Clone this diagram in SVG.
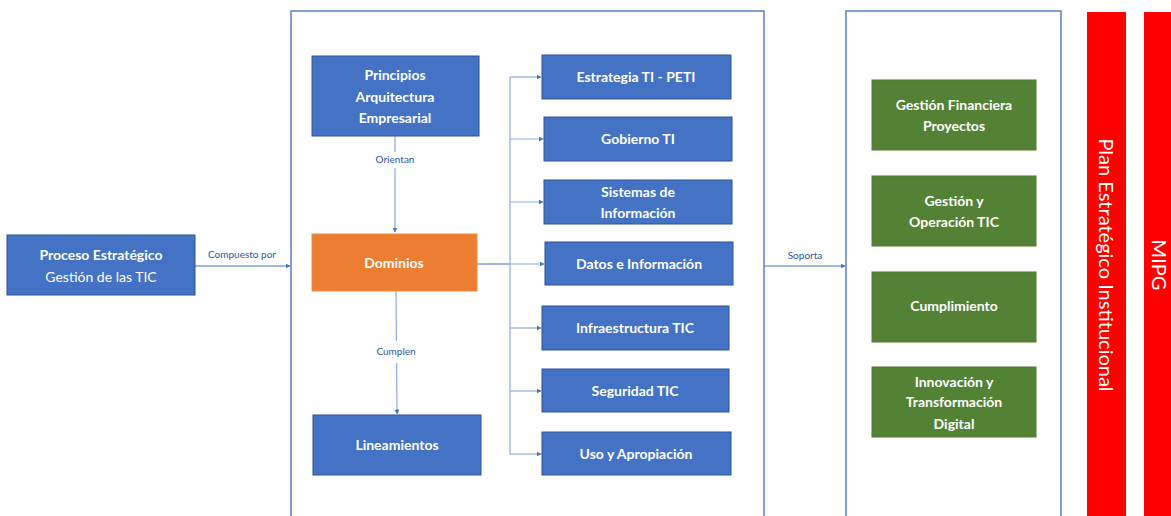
<svg xmlns="http://www.w3.org/2000/svg" width="1171" height="516" viewBox="0 0 1171 516">
  <defs>
    <marker id="arr" viewBox="0 0 10 10" refX="9" refY="5" markerWidth="5" markerHeight="5" orient="auto" markerUnits="userSpaceOnUse">
      <path d="M0,0 L10,5 L0,10 z" fill="#4472C4"/>
    </marker>
    <style>
      .blue { fill: #4472C4; stroke: #2F528F; stroke-width: 1; }
      .orange { fill: #ED7D31; stroke: #EE8A45; stroke-width: 1; }
      .green { fill: #548235; stroke: #4E7A32; stroke-width: 1; }
      .frame { fill: none; stroke: #5B7FC7; stroke-width: 1.5; }
      .red { fill: #FF0000; }
      .t { font-family: Lato, "Liberation Sans", sans-serif; font-size: 14px; font-weight: bold; fill: #FFFFFF; text-anchor: middle; }
      .tr { font-family: Lato, "Liberation Sans", sans-serif; font-size: 14px; fill: #FFFFFF; text-anchor: middle; }
      .lbl { font-family: Lato, "Liberation Sans", sans-serif; font-size: 10px; fill: #2F5597; text-anchor: middle; }
      .big { font-family: Lato, "Liberation Sans", sans-serif; font-size: 20px; fill: #FFFFFF; text-anchor: middle; }
      .conn { fill: none; stroke: #4472C4; stroke-width: 1.2; }
      .connl { fill: none; stroke: #8EA9DB; stroke-width: 1.2; }
    </style>
  </defs>

  <rect width="1171" height="516" fill="#FFFFFF"/>

  <!-- frames -->
  <g id="frame-dominios">
    <path class="frame" d="M291,520 L291,11 L764,11 L764,520"/>
  </g>
  <g id="frame-soporte">
    <path class="frame" d="M846,520 L846,11 L1061,11 L1061,520"/>
  </g>

  <!-- connectors -->
  <g id="connectors">
    <line class="conn" x1="195" y1="266" x2="290" y2="266" marker-end="url(#arr)"/>
    <line class="connl" x1="395" y1="136" x2="395" y2="232" marker-end="url(#arr)"/>
    <line class="connl" x1="396" y1="291" x2="397" y2="414" marker-end="url(#arr)"/>
    <line class="conn" x1="477" y1="264" x2="510" y2="264"/>
    <line class="connl" x1="510" y1="77" x2="510" y2="454"/>
    <line class="connl" x1="510" y1="77" x2="541" y2="77" marker-end="url(#arr)"/>
    <line class="connl" x1="510" y1="139" x2="543" y2="139" marker-end="url(#arr)"/>
    <line class="connl" x1="510" y1="202" x2="543" y2="202" marker-end="url(#arr)"/>
    <line class="connl" x1="510" y1="264" x2="544" y2="264" marker-end="url(#arr)"/>
    <line class="connl" x1="510" y1="328" x2="541" y2="328" marker-end="url(#arr)"/>
    <line class="connl" x1="510" y1="391" x2="541" y2="391" marker-end="url(#arr)"/>
    <line class="connl" x1="510" y1="454" x2="541" y2="454" marker-end="url(#arr)"/>
    <line class="conn" x1="764" y1="266" x2="845" y2="266" marker-end="url(#arr)"/>
    <text class="lbl" x="242" y="258">Compuesto por</text>
    <rect x="370" y="152" width="50" height="16" fill="#FFFFFF"/>
    <text class="lbl" x="395" y="163">Orientan</text>
    <rect x="345" y="341" width="100" height="22" fill="#FFFFFF"/>
    <text class="lbl" x="396" y="355">Cumplen</text>
    <text class="lbl" x="805" y="259">Soporta</text>
  </g>

  <!-- left node -->
  <g id="proceso">
    <rect class="blue" x="7" y="235" width="188" height="60"/>
    <text class="t" x="101" y="260">Proceso Estratégico</text>
    <text class="tr" x="101" y="282">Gestión de las TIC</text>
  </g>

  <!-- central column -->
  <g id="principios">
    <rect class="blue" x="312" y="56" width="167" height="80"/>
    <text class="t" x="395" y="80">Principios</text>
    <text class="t" x="395" y="102">Arquitectura</text>
    <text class="t" x="395" y="123">Empresarial</text>
  </g>
  <g id="dominios">
    <rect class="orange" x="312" y="234" width="165" height="57"/>
    <text class="t" x="394" y="268">Dominios</text>
  </g>
  <g id="lineamientos">
    <rect class="blue" x="313" y="415" width="168" height="60"/>
    <text class="t" x="397" y="450">Lineamientos</text>
  </g>

  <!-- domain list -->
  <g id="estrategia">
    <rect class="blue" x="542" y="55" width="189" height="44"/>
    <text class="t" x="636" y="82">Estrategia TI - PETI</text>
  </g>
  <g id="gobierno">
    <rect class="blue" x="544" y="117" width="188" height="44"/>
    <text class="t" x="638" y="144">Gobierno TI</text>
  </g>
  <g id="sistemas">
    <rect class="blue" x="544" y="180" width="188" height="44"/>
    <text class="t" x="638" y="197">Sistemas de</text>
    <text class="t" x="638" y="218">Información</text>
  </g>
  <g id="datos">
    <rect class="blue" x="545" y="242" width="188" height="43"/>
    <text class="t" x="639" y="269">Datos e Información</text>
  </g>
  <g id="infraestructura">
    <rect class="blue" x="542" y="306" width="187" height="44"/>
    <text class="t" x="635" y="333">Infraestructura TIC</text>
  </g>
  <g id="seguridad">
    <rect class="blue" x="542" y="369" width="187" height="43"/>
    <text class="t" x="635" y="396">Seguridad TIC</text>
  </g>
  <g id="uso">
    <rect class="blue" x="542" y="432" width="189" height="43"/>
    <text class="t" x="636" y="459">Uso y Apropiación</text>
  </g>

  <!-- support areas -->
  <g id="financiera">
    <rect class="green" x="872" y="80" width="164" height="70"/>
    <text class="t" x="954" y="110">Gestión Financiera</text>
    <text class="t" x="954" y="131">Proyectos</text>
  </g>
  <g id="operacion">
    <rect class="green" x="872" y="176" width="164" height="70"/>
    <text class="t" x="954" y="206">Gestión y</text>
    <text class="t" x="954" y="227">Operación TIC</text>
  </g>
  <g id="cumplimiento">
    <rect class="green" x="872" y="272" width="164" height="70"/>
    <text class="t" x="954" y="311">Cumplimiento</text>
  </g>
  <g id="innovacion">
    <rect class="green" x="872" y="367" width="164" height="70"/>
    <text class="t" x="954" y="387">Innovación y</text>
    <text class="t" x="954" y="407">Transformación</text>
    <text class="t" x="954" y="429">Digital</text>
  </g>

  <!-- vertical bands -->
  <g id="plan-estrategico">
    <rect class="red" x="1087" y="12" width="39" height="510"/>
    <text class="big" transform="translate(1106,265) rotate(90)" y="7">Plan Estratégico Institucional</text>
  </g>
  <g id="mipg">
    <rect class="red" x="1144" y="12" width="30" height="510"/>
    <text class="big" transform="translate(1159,265) rotate(90)" y="7">MIPG</text>
  </g>
</svg>
